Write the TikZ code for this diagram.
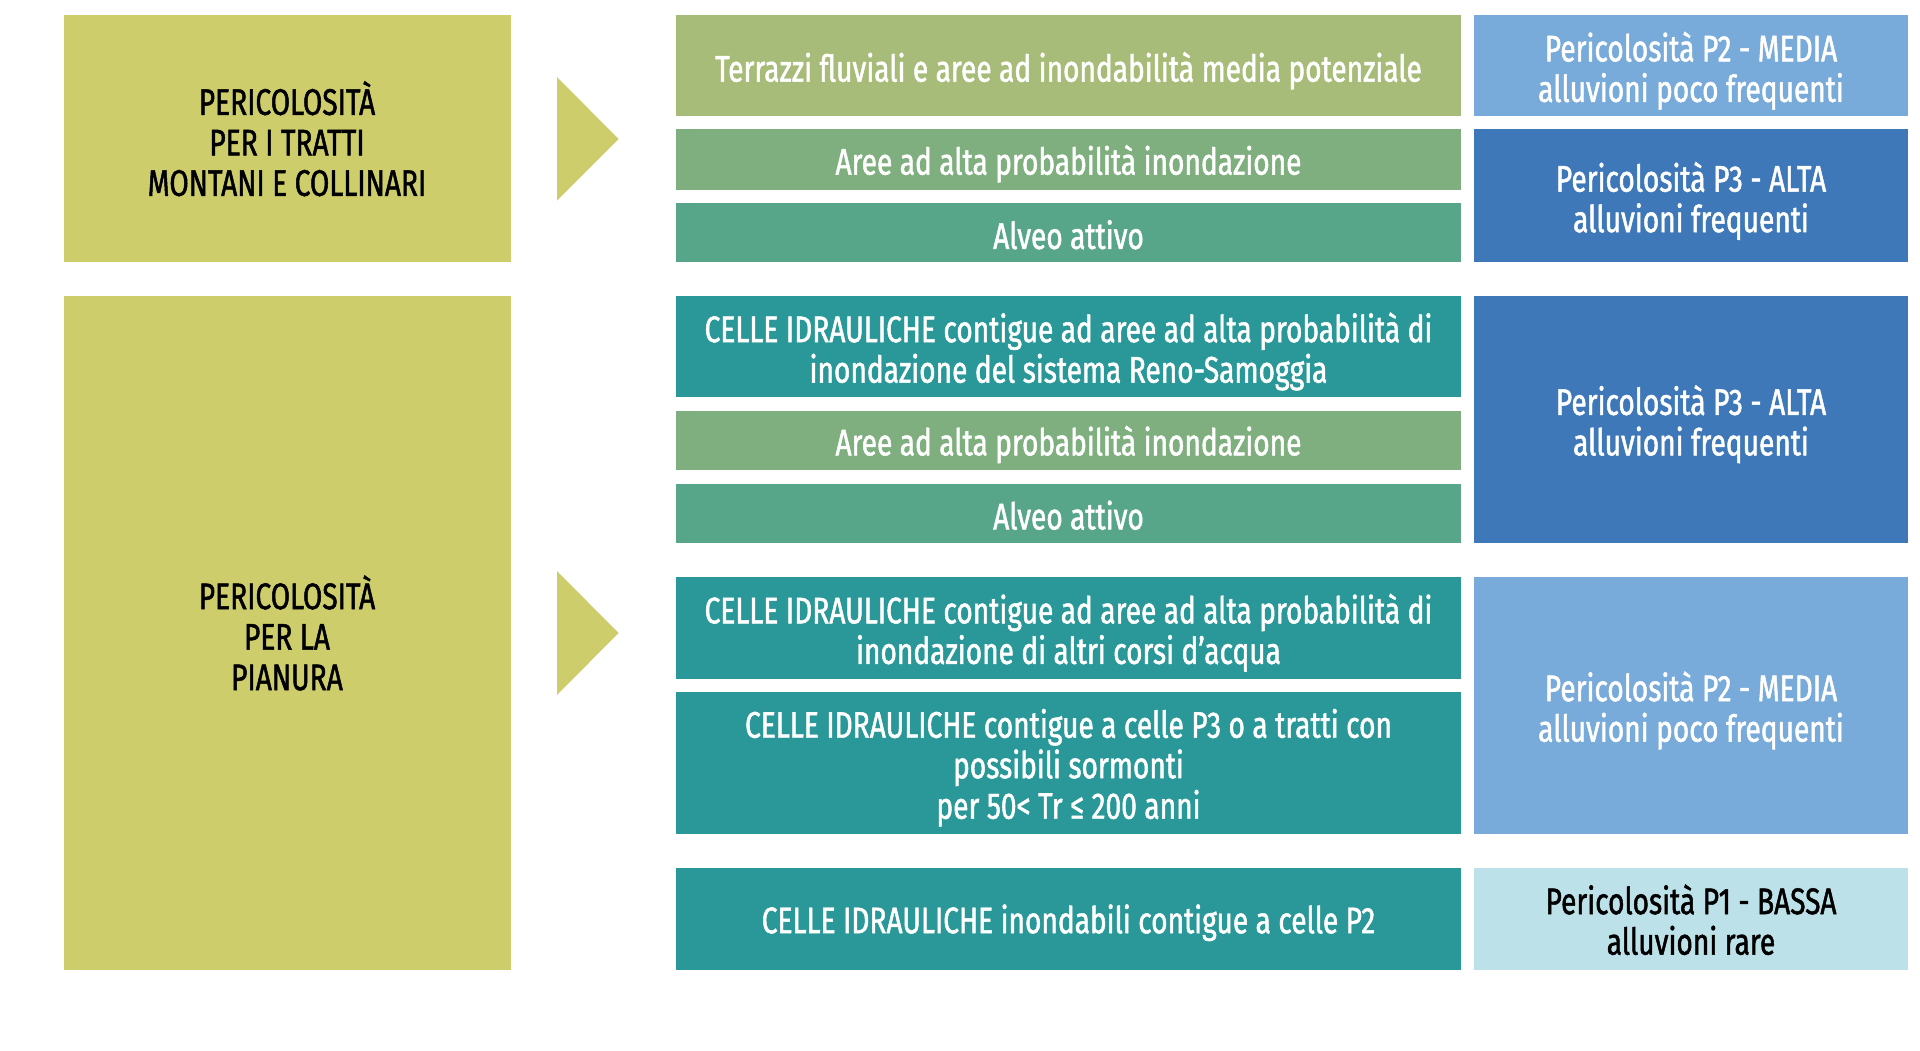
\documentclass[tikz,border=0pt]{standalone}
\usepackage{fontspec}
\setmainfont{Fira Sans}[FakeStretch=0.76, FakeBold=1.3]
\definecolor{cYel}{HTML}{CDCD6B}
\definecolor{cTer}{HTML}{A7BC78}
\definecolor{cAre}{HTML}{7FAF7E}
\definecolor{cAlv}{HTML}{58A68A}
\definecolor{cCel}{HTML}{2A9898}
\definecolor{cPtwo}{HTML}{78ABDA}
\definecolor{cPthree}{HTML}{3F78B8}
\definecolor{cPone}{HTML}{BCE1E8}
\tikzset{
  cell/.style={anchor=north west, inner sep=0pt, outer sep=0pt, draw=none},
  midcell/.style={cell, minimum width=785pt},
  rightcell/.style={cell, minimum width=434pt},
  leftcell/.style={cell, minimum width=447pt, fill=cYel},
  txt/.style={inner sep=0pt, align=center, font=\fontsize{37}{40.5}\selectfont},
  wtxt/.style={txt, text=white},
  btxt/.style={txt, text=black},
  chevron/.style={fill=cYel, draw=none}
}
\begin{document}
\begin{tikzpicture}[x=1pt,y=-1pt]
\useasboundingbox (0,0) rectangle (1920,1051);
% left column
\node[leftcell, minimum height=247.5pt] (lt) at (63.5,15) {};
\node[btxt] (ltT) at (lt.center) {PERICOLOSITÀ\\PER I TRATTI\\MONTANI E COLLINARI};
\node[leftcell, minimum height=674pt] (lb) at (63.5,296) {};
\node[btxt] (lbT) at (lb.center) {PERICOLOSITÀ\\PER LA\\PIANURA};
% chevrons
\fill[chevron] (557,77) -- (618.5,139) -- (557,200.7) -- cycle;
\fill[chevron] (557,571) -- (618.5,633) -- (557,695) -- cycle;
% middle column
\node[midcell, fill=cTer, minimum height=101.5pt] (r1) at (676,15) {};
\node[midcell, fill=cAre, minimum height=60.5pt] (r2) at (676,129.5) {};
\node[midcell, fill=cAlv, minimum height=59.5pt] (r3) at (676,203) {};
\node[midcell, fill=cCel, minimum height=101pt] (r4) at (676,296) {};
\node[midcell, fill=cAre, minimum height=59pt] (r5) at (676,411) {};
\node[midcell, fill=cAlv, minimum height=58.5pt] (r6) at (676,484) {};
\node[midcell, fill=cCel, minimum height=101.5pt] (r7) at (676,577) {};
\node[midcell, fill=cCel, minimum height=142.5pt] (r8) at (676,691.5) {};
\node[midcell, fill=cCel, minimum height=101.5pt] (r9) at (676,868) {};
\node[wtxt] (r1T) at ([yshift=-5pt]r1.center) {Terrazzi fluviali e aree ad inondabilità media potenziale};
\node[wtxt] (r2T) at ([yshift=-4pt]r2.center) {Aree ad alta probabilità inondazione};
\node[wtxt] (r3T) at ([yshift=-2pt]r3.center) {Alveo attivo};
\node[wtxt] (r4T) at ([yshift=-5pt]r4.center) {CELLE IDRAULICHE contigue ad aree ad alta probabilità di\\inondazione del sistema Reno-Samoggia};
\node[wtxt] (r5T) at ([yshift=-4pt]r5.center) {Aree ad alta probabilità inondazione};
\node[wtxt] (r6T) at ([yshift=-2pt]r6.center) {Alveo attivo};
\node[wtxt] (r7T) at ([yshift=-5pt]r7.center) {CELLE IDRAULICHE contigue ad aree ad alta probabilità di\\inondazione di altri corsi d’acqua};
\node[wtxt] (r8T) at ([yshift=-5pt]r8.center) {CELLE IDRAULICHE contigue a celle P3 o a tratti con\\possibili sormonti\\per 50< Tr ≤ 200 anni};
\node[wtxt] (r9T) at ([yshift=-4pt]r9.center) {CELLE IDRAULICHE inondabili contigue a celle P2};
% right column
\node[rightcell, fill=cPtwo, minimum height=101.5pt] (pa) at (1474,15) {};
\node[rightcell, fill=cPthree, minimum height=133pt] (pb) at (1474,129.5) {};
\node[rightcell, fill=cPthree, minimum height=246.5pt] (pc) at (1474,296) {};
\node[rightcell, fill=cPtwo, minimum height=257pt] (pd) at (1474,577) {};
\node[rightcell, fill=cPone, minimum height=101.5pt] (pe) at (1474,868) {};
\node[wtxt] (paT) at ([yshift=-5pt]pa.center) {Pericolosità P2 - MEDIA\\alluvioni poco frequenti};
\node[wtxt] (pbT) at ([yshift=-5pt]pb.center) {Pericolosità P3 - ALTA\\alluvioni frequenti};
\node[wtxt] (pcT) at ([yshift=-5pt]pc.center) {Pericolosità P3 - ALTA\\alluvioni frequenti};
\node[wtxt] (pdT) at ([yshift=-5pt]pd.center) {Pericolosità P2 - MEDIA\\alluvioni poco frequenti};
\node[btxt] (peT) at ([yshift=-1pt]pe.center) {Pericolosità P1 - BASSA\\alluvioni rare};
\end{tikzpicture}
\end{document}
